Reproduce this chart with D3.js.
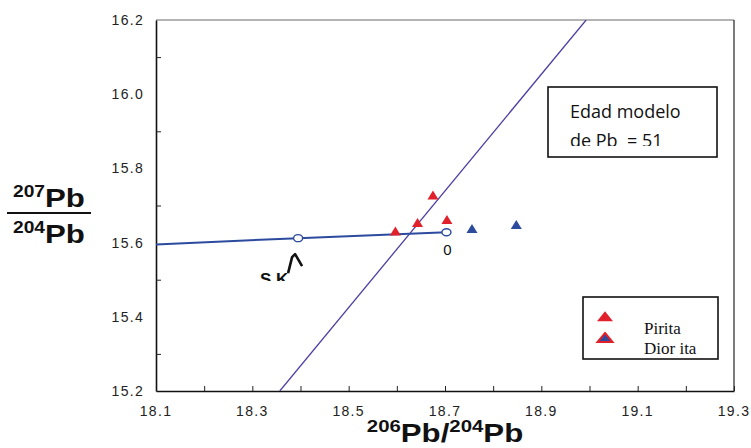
<!DOCTYPE html>
<html>
<head>
<meta charset="utf-8">
<script src="https://cdn.jsdelivr.net/npm/d3@7"></script>
<style>
  html, body { margin: 0; padding: 0; background: #fff; }
  svg { display: block; }
</style>
</head>
<body>
<svg id="chart" width="751" height="448"></svg>
<script>
// data
const xTicks = [18.1, 18.3, 18.5, 18.7, 18.9, 19.1, 19.3];
const yTicks = [15.2, 15.4, 15.6, 15.8, 16.0, 16.2];

const pirita206 = [18.597, 18.643, 18.675, 18.704];
const pirita207 = [15.627, 15.650, 15.724, 15.658];
const diorita206 = [18.756, 18.848];
const diorita207 = [15.634, 15.645];

// growth curve (blue) with the two marked points
const curve206 = [18.1, 18.395, 18.703];
const curve207 = [15.595, 15.612, 15.628];
const curveLabels = ["", "S K", "0"];

// isochron line (purple)
const iso206 = [18.357, 18.993];
const iso207 = [15.2, 16.2];

const svg = d3.select("#chart");
const plotLeft = 156, plotRight = 734, plotTop = 20, plotBottom = 391;

const x = d3.scaleLinear().domain([18.1, 19.3]).range([plotLeft, plotRight]);
const y = d3.scaleLinear().domain([15.2, 16.2]).range([plotBottom, plotTop]);

const red = "#e0212b";
const blue = "#2c4a9e";
const purple = "#4f3ea3";

function tri(w, h) {
    // centroid at origin
    return `M0,${-2 * h / 3}L${w / 2},${h / 3}L${-w / 2},${h / 3}Z`;
}

svg.append("clipPath").attr("id", "plot-clip")
    .append("rect")
    .attr("x", plotLeft).attr("y", plotTop)
    .attr("width", plotRight - plotLeft).attr("height", plotBottom - plotTop);

// frame: top and right
svg.append("line")
    .attr("x1", plotLeft).attr("x2", plotRight).attr("y1", plotTop).attr("y2", plotTop)
    .attr("stroke", "#6a6a6a").attr("stroke-width", 1.2);
svg.append("line")
    .attr("x1", plotRight).attr("x2", plotRight).attr("y1", plotTop).attr("y2", plotBottom)
    .attr("stroke", "#222").attr("stroke-width", 1.2);

// x axis: ticks every 0.1 pointing inward
const xAxis = svg.append("g")
    .attr("transform", `translate(0,${plotBottom})`)
    .call(d3.axisBottom(x)
        .tickValues(d3.range(18.1, 19.31, 0.1))
        .tickSize(-5)
        .tickSizeOuter(0)
        .tickFormat(""));
xAxis.select(".domain").attr("stroke", "#111").attr("stroke-width", 1.6);
xAxis.selectAll(".tick line").attr("stroke", "#222").attr("stroke-width", 1);

svg.append("g").selectAll("text")
    .data(xTicks)
    .enter()
    .append("text")
    .attr("x", d => x(d))
    .attr("y", 416)
    .attr("text-anchor", "middle")
    .style("font-family", "'Liberation Sans', Arial, sans-serif")
    .style("font-size", "14px")
    .style("letter-spacing", "1.3px")
    .style("fill", "#222")
    .text(d => d.toFixed(1));

// y axis: minor ticks only, pointing inward
const yAxis = svg.append("g")
    .attr("transform", `translate(${plotLeft},0)`)
    .call(d3.axisLeft(y)
        .tickValues([15.3, 15.5, 15.7, 15.9, 16.1])
        .tickSize(-5)
        .tickSizeOuter(0)
        .tickFormat(""));
yAxis.select(".domain").attr("stroke", "#111").attr("stroke-width", 1.6);
yAxis.selectAll(".tick line").attr("stroke", "#222").attr("stroke-width", 1);

svg.append("g").selectAll("text")
    .data(yTicks)
    .enter()
    .append("text")
    .attr("x", 144)
    .attr("y", d => y(d) + 5)
    .attr("text-anchor", "end")
    .style("font-family", "'Liberation Sans', Arial, sans-serif")
    .style("font-size", "14px")
    .style("letter-spacing", "1.3px")
    .style("fill", "#222")
    .text(d => d.toFixed(1));

const plot = svg.append("g").attr("clip-path", "url(#plot-clip)");

// isochron
plot.append("line")
    .attr("x1", x(iso206[0])).attr("y1", y(iso207[0]))
    .attr("x2", x(iso206[1])).attr("y2", y(iso207[1]))
    .attr("stroke", purple)
    .attr("stroke-width", 1.3);

// growth curve
const curvePts = curve206.map((v, i) => ({ x: v, y: curve207[i], label: curveLabels[i] }));
plot.append("path")
    .datum(curvePts)
    .attr("d", d3.line().x(d => x(d.x)).y(d => y(d.y)))
    .attr("fill", "none")
    .attr("stroke", blue)
    .attr("stroke-width", 2);

plot.selectAll("ellipse")
    .data(curvePts.slice(1))
    .enter()
    .append("ellipse")
    .attr("cx", d => x(d.x))
    .attr("cy", d => y(d.y))
    .attr("rx", 4.5)
    .attr("ry", 3.5)
    .attr("fill", "#fff")
    .attr("stroke", blue)
    .attr("stroke-width", 1.4);

// pirita
const pirita = pirita206.map((v, i) => ({ x: v, y: pirita207[i] }));
plot.selectAll("path.pirita")
    .data(pirita)
    .enter()
    .append("path")
    .attr("class", "pirita")
    .attr("d", tri(11, 9))
    .attr("transform", d => `translate(${x(d.x)},${y(d.y)})`)
    .attr("fill", red);

// diorita
const diorita = diorita206.map((v, i) => ({ x: v, y: diorita207[i] }));
plot.selectAll("path.diorita")
    .data(diorita)
    .enter()
    .append("path")
    .attr("class", "diorita")
    .attr("d", tri(11, 9))
    .attr("transform", d => `translate(${x(d.x)},${y(d.y)})`)
    .attr("fill", blue);

// "0" label below end point
svg.append("text")
    .attr("x", x(curve206[2]) + 1)
    .attr("y", y(curve207[2]) + 23)
    .attr("text-anchor", "middle")
    .style("font-family", "'Liberation Sans', Arial, sans-serif")
    .style("font-size", "15px")
    .style("fill", "#111")
    .text(curveLabels[2]);

// "S K" label, cut at the bottom like the original
svg.append("clipPath").attr("id", "sk-clip")
    .append("rect").attr("x", 240).attr("y", 250).attr("width", 80).attr("height", 31);
const skx = x(curve206[1]), sky = y(curve207[1]);
svg.append("text")
    .attr("clip-path", "url(#sk-clip)")
    .attr("x", skx - 24)
    .attr("y", sky + 47)
    .attr("text-anchor", "middle")
    .style("font-family", "'Liberation Sans', Arial, sans-serif")
    .style("font-size", "17px")
    .style("font-weight", 700)
    .style("fill", "#111")
    .text(curveLabels[1]);
svg.append("path")
    .attr("d", `M${skx - 10},${sky + 35}L${skx - 6},${sky + 19}L${skx - 3},${sky + 16}L${skx + 4},${sky + 28}`)
    .attr("fill", "none")
    .attr("stroke", "#111")
    .attr("stroke-width", 2.6)
    .attr("stroke-linejoin", "round");

// text box
const box = svg.append("g");
box.append("rect")
    .attr("x", 548).attr("y", 87).attr("width", 169).attr("height", 70)
    .attr("fill", "#fff").attr("stroke", "#111").attr("stroke-width", 1.6);
svg.append("clipPath").attr("id", "box-clip")
    .append("rect").attr("x", 548).attr("y", 87).attr("width", 169).attr("height", 59);
box.append("text")
    .attr("x", 570).attr("y", 118)
    .style("font-family", "'Open Sans', 'Noto Sans', sans-serif")
    .style("font-size", "18px")
    .style("fill", "#111")
    .text("Edad modelo");
box.append("text")
    .attr("clip-path", "url(#box-clip)")
    .attr("x", 570).attr("y", 147)
    .style("white-space", "pre")
    .style("font-family", "'Open Sans', 'Noto Sans', sans-serif")
    .style("font-size", "18px")
    .style("fill", "#111")
    .text("de Pb  = 51");

// legend
const legend = svg.append("g");
legend.append("rect")
    .attr("x", 583).attr("y", 297).attr("width", 135).attr("height", 62)
    .attr("fill", "#fff").attr("stroke", "#111").attr("stroke-width", 1.6);
legend.append("path")
    .attr("d", tri(16, 10))
    .attr("transform", "translate(605,318)")
    .attr("fill", red);
legend.append("path")
    .attr("d", tri(15, 9))
    .attr("transform", "translate(605,339)")
    .attr("fill", blue)
    .attr("stroke", red)
    .attr("stroke-width", 2);
legend.append("text")
    .attr("x", 644).attr("y", 334)
    .style("font-family", "'Liberation Serif', 'Times New Roman', serif")
    .style("font-size", "17px")
    .style("fill", "#111")
    .text("Pirita");
legend.append("text")
    .attr("x", 644).attr("y", 354)
    .style("font-family", "'Liberation Serif', 'Times New Roman', serif")
    .style("font-size", "17px")
    .style("fill", "#111")
    .text("Dior ita");

// axis titles (the original is stretched horizontally)
const yTitle = svg.append("g")
    .style("font-family", "'Liberation Sans', Arial, sans-serif")
    .style("font-weight", 700)
    .style("fill", "#111");
const t1 = yTitle.append("text").attr("transform", "translate(13,207) scale(1.2,1)");
t1.append("tspan").style("font-size", "16px").attr("dy", -10).text("207");
t1.append("tspan").style("font-size", "26px").attr("dy", 10).text("Pb");
yTitle.append("line")
    .attr("x1", 7).attr("x2", 91).attr("y1", 213).attr("y2", 213)
    .attr("stroke", "#111").attr("stroke-width", 1.8);
const t2 = yTitle.append("text").attr("transform", "translate(13,243) scale(1.2,1)");
t2.append("tspan").style("font-size", "16px").attr("dy", -10).text("204");
t2.append("tspan").style("font-size", "26px").attr("dy", 10).text("Pb");

const xTitle = svg.append("text")
    .attr("transform", "translate(445,442) scale(1.2,1)")
    .attr("text-anchor", "middle")
    .style("font-family", "'Liberation Sans', Arial, sans-serif")
    .style("font-weight", 700)
    .style("fill", "#111");
xTitle.append("tspan").style("font-size", "17px").attr("dy", -10).text("206");
xTitle.append("tspan").style("font-size", "26px").attr("dy", 10).text("Pb/");
xTitle.append("tspan").style("font-size", "17px").attr("dy", -10).text("204");
xTitle.append("tspan").style("font-size", "26px").attr("dy", 10).text("Pb");
</script>
</body>
</html>
